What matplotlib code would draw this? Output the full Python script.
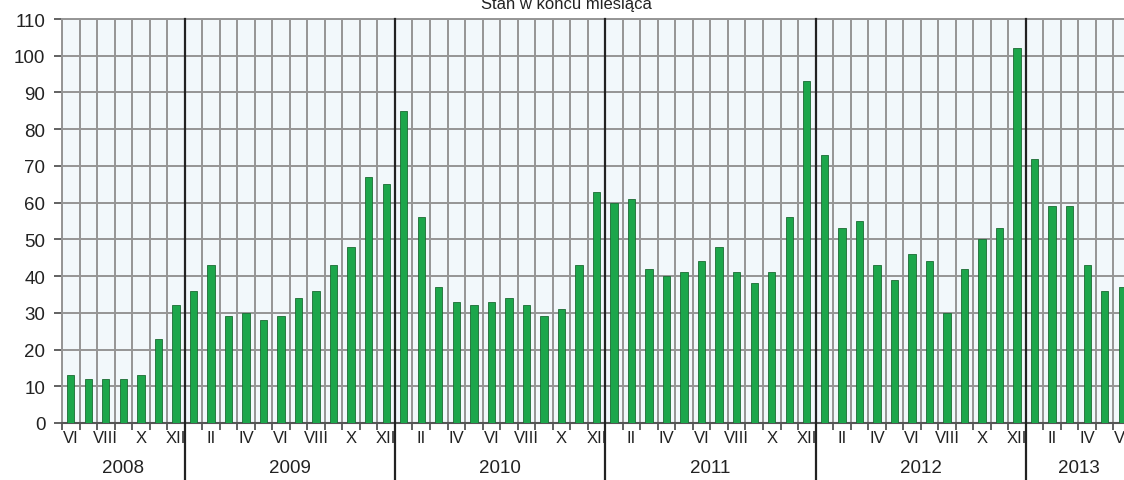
import numpy as np
import matplotlib.pyplot as plt

plt.rcParams['font.family'] = ['Liberation Sans', 'DejaVu Sans']

roman = ['I', 'II', 'III', 'IV', 'V', 'VI', 'VII', 'VIII', 'IX', 'X', 'XI', 'XII']
years = [2008, 2009, 2010, 2011, 2012, 2013]
first_month = {2008: 6}
last_month = {2013: 6}

v2008 = [13, 12, 12, 12, 13, 23, 32]
v2009 = [36, 43, 29, 30, 28, 29, 34, 36, 43, 48, 67, 65]
v2010 = [85, 56, 37, 33, 32, 33, 34, 32, 29, 31, 43, 63]
v2011 = [60, 61, 42, 40, 41, 44, 48, 41, 38, 41, 56, 93]
v2012 = [73, 53, 55, 43, 39, 46, 44, 30, 42, 50, 53, 102]
v2013 = [72, 59, 59, 43, 36, 37]
values = v2008 + v2009 + v2010 + v2011 + v2012 + v2013

# month numbers and year of each bar
months, bar_years = [], []
for y in years:
    m0 = first_month.get(y, 1)
    m1 = last_month.get(y, 12)
    for m in range(m0, m1 + 1):
        months.append(m)
        bar_years.append(y)
n = len(values)
x = np.arange(n)

fig = plt.figure(figsize=(11.24, 4.81), dpi=100)
ax = fig.add_axes([62 / 1124, 57 / 481, (1131 - 62) / 1124, 404 / 481])
ax.set_facecolor('#f2f8fb')

grid_c = '#959595'
for b in np.arange(-0.5, n, 1.0):
    ax.axvline(b, color=grid_c, lw=1.4, zorder=1)
for yv in range(10, 111, 10):
    ax.axhline(yv, color=grid_c, lw=1.4, zorder=1)

ax.bar(x, values, width=0.42, color='#1ca64b', edgecolor='#1b6b34', lw=0.6, zorder=3)

# year separators
for i in range(1, n):
    if months[i] == 1:
        ax.axvline(i - 0.5, ymin=-0.16, ymax=1, color='#222222', lw=1.6,
                   clip_on=False, zorder=4)

ax.set_xlim(-0.5, n - 0.5)
ax.set_ylim(0, 110)
ax.set_yticks(range(0, 111, 10))
ax.tick_params(axis='y', labelsize=13.5, length=6, width=1.3, color='#555555',
               labelcolor='#222222', pad=6)

lab_idx = [i for i in range(n) if months[i] % 2 == 0]
ax.set_xticks(lab_idx)
ax.set_xticklabels([roman[months[i] - 1] for i in lab_idx], fontsize=12, color='#222222')
ax.tick_params(axis='x', length=0, pad=5)
ax.set_xticks(np.arange(-0.5, n, 1.0), minor=True)
ax.tick_params(axis='x', which='minor', length=5, width=1.3, color='#555555')

for y in years:
    idx = [i for i in range(n) if bar_years[i] == y]
    ax.text((idx[0] + idx[-1]) / 2, -0.11, str(y), transform=ax.get_xaxis_transform(),
            ha='center', va='center', fontsize=13.5, color='#222222')

for s in ['top', 'right', 'left']:
    ax.spines[s].set_color(grid_c)
    ax.spines[s].set_linewidth(1.4)
ax.spines['bottom'].set_color('#555555')
ax.spines['bottom'].set_linewidth(1.5)

fig.text(566 / 1124, 1 - 4 / 481, 'Stan w końcu miesiąca', ha='center', va='center',
         fontsize=12, color='#222222')

fig.savefig('out.png', dpi=100)
